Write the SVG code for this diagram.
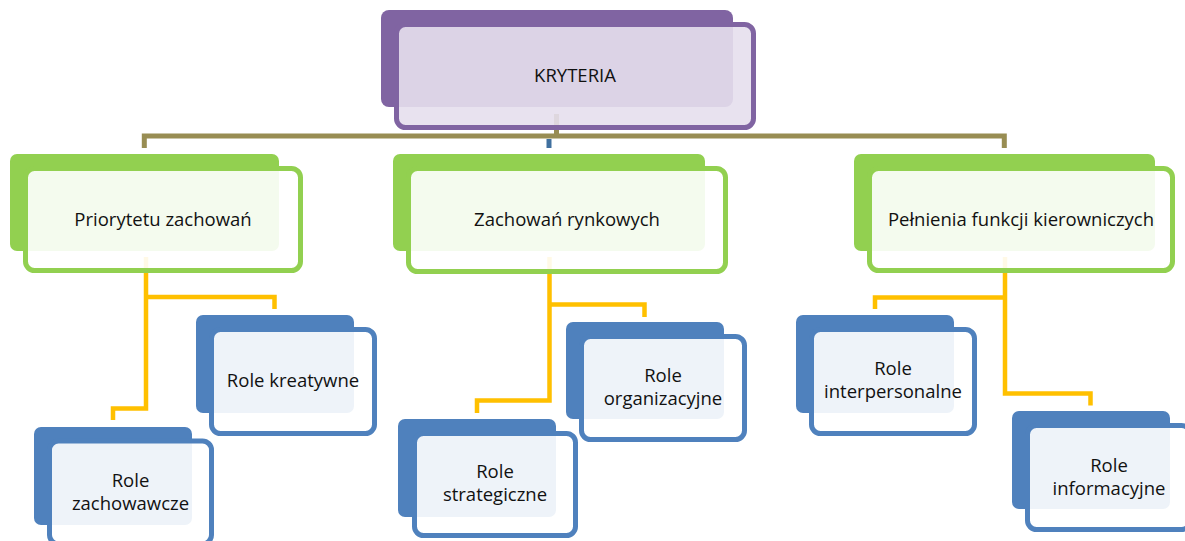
<svg xmlns="http://www.w3.org/2000/svg" width="1185" height="541" viewBox="0 0 1185 541">
<style>
.t{font-family:"Open Sans","Liberation Sans",sans-serif;font-size:18.5px;fill:#111111;text-anchor:middle}
.pb{fill:#8064a2}
.pf{fill:#e5dfed;fill-opacity:0.9;stroke:#8064a2;stroke-width:5}
.gb{fill:#92d050}
.gf{fill:#ffffff;fill-opacity:0.9;stroke:#92d050;stroke-width:5}
.bb{fill:#4f81bd}
.bf{fill:#ffffff;fill-opacity:0.9;stroke:#4f81bd;stroke-width:5}
.ol{fill:none;stroke:#988d53;stroke-width:5}
.yl{fill:none;stroke:#ffc000;stroke-width:4.5}
</style>
<rect width="1185" height="541" fill="#ffffff"/>
<g id="connectors">
<path class="ol" d="M144.3,148 V136 H1004.3 V148"/>
<path class="ol" d="M556.5,114 V136"/>
<path d="M549,139 V148" stroke="#40709f" stroke-width="5" fill="none"/>
<path class="yl" d="M146,257 V408.5 H113 V420"/>
<path class="yl" d="M146,297 H274.5 V309"/>
<path class="yl" d="M549.5,257 V400.5 H477 V413"/>
<path class="yl" d="M549.5,304.5 H644.5 V317"/>
<path class="yl" d="M1005,257 V393.5 H1090.5 V405.5"/>
<path class="yl" d="M1005,297.5 H875 V309"/>
</g>
<g id="kryteria">
<rect class="pb" x="381" y="10" width="352" height="97" rx="8"/>
<rect class="pf" x="396.5" y="24.5" width="357" height="103" rx="9"/>
<text class="t" x="575" y="82">KRYTERIA</text>
</g>
<g id="priorytetu">
<rect class="gb" x="10" y="154" width="269" height="97" rx="7"/>
<rect class="gf" x="25.5" y="168.5" width="275" height="102" rx="9"/>
<text class="t" x="163" y="226">Priorytetu zachowań</text>
</g>
<g id="rynkowych">
<rect class="gb" x="393" y="154" width="312" height="97" rx="7"/>
<rect class="gf" x="408.5" y="168.5" width="317" height="103" rx="9"/>
<text class="t" x="567" y="226">Zachowań rynkowych</text>
</g>
<g id="kierowniczych">
<rect class="gb" x="854" y="154" width="301" height="97" rx="7"/>
<rect class="gf" x="869.5" y="168.5" width="303" height="102" rx="9"/>
<text class="t" x="1021" y="226">Pełnienia funkcji kierowniczych</text>
</g>
<g id="kreatywne">
<rect class="bb" x="196" y="315" width="158" height="98" rx="7"/>
<rect class="bf" x="211.5" y="329.5" width="163" height="104" rx="9"/>
<text class="t" x="293" y="387">Role kreatywne</text>
</g>
<g id="zachowawcze">
<rect class="bb" x="34" y="427" width="158" height="98" rx="7"/>
<rect class="bf" x="49.5" y="441" width="162" height="103" rx="9"/>
<text class="t" x="130.5" y="487">Role</text>
<text class="t" x="130.5" y="510">zachowawcze</text>
</g>
<g id="organizacyjne">
<rect class="bb" x="566" y="322" width="158" height="97" rx="7"/>
<rect class="bf" x="581.5" y="336.5" width="163" height="103" rx="9"/>
<text class="t" x="663" y="382">Role</text>
<text class="t" x="663" y="405">organizacyjne</text>
</g>
<g id="strategiczne">
<rect class="bb" x="398" y="419" width="158" height="98" rx="7"/>
<rect class="bf" x="414.5" y="433.5" width="161" height="102" rx="9"/>
<text class="t" x="495" y="478">Role</text>
<text class="t" x="495" y="501">strategiczne</text>
</g>
<g id="interpersonalne">
<rect class="bb" x="796" y="315" width="158" height="98" rx="7"/>
<rect class="bf" x="811.5" y="329.5" width="163" height="104" rx="9"/>
<text class="t" x="893" y="375">Role</text>
<text class="t" x="893" y="398">interpersonalne</text>
</g>
<g id="informacyjne">
<rect class="bb" x="1012" y="411" width="158" height="98" rx="7"/>
<rect class="bf" x="1027.5" y="425.5" width="163" height="104" rx="9"/>
<text class="t" x="1109" y="472">Role</text>
<text class="t" x="1109" y="495">informacyjne</text>
</g>
</svg>
